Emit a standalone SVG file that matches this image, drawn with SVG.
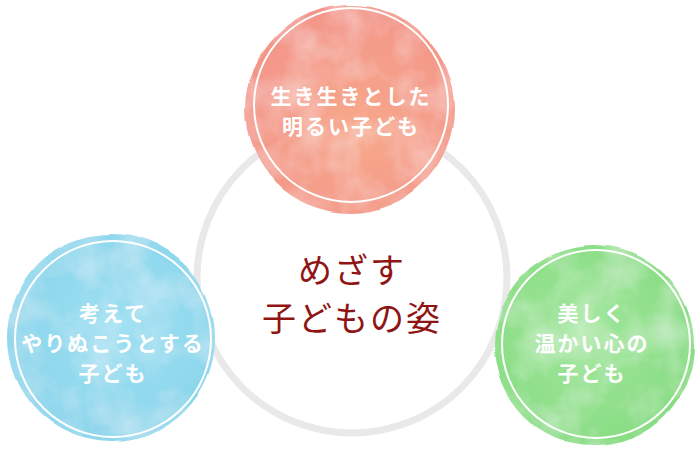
<svg xmlns="http://www.w3.org/2000/svg" width="700" height="450" viewBox="0 0 700 450">
<style>
.lbl{font-family:"Noto Sans CJK JP","Noto Sans",sans-serif;font-weight:700;font-size:21px;fill:#ffffff;text-anchor:middle;letter-spacing:2px}
.ctr{font-family:"Noto Sans CJK JP","Noto Sans",sans-serif;font-weight:400;font-size:34px;fill:#8f1414;text-anchor:middle;letter-spacing:2px}
.inner{fill:none;stroke:#ffffff;stroke-width:2}
</style>
<defs>
<filter id="wc" x="-10%" y="-10%" width="120%" height="120%">
<feTurbulence type="fractalNoise" baseFrequency="0.015" numOctaves="2" seed="4" result="n"/>
<feDisplacementMap in="SourceGraphic" in2="n" scale="6" xChannelSelector="R" yChannelSelector="G" result="d"/>
<feTurbulence type="fractalNoise" baseFrequency="0.025" numOctaves="4" seed="9" result="n2"/>
<feColorMatrix in="n2" type="matrix" values="0 0 0 0 1  0 0 0 0 1  0 0 0 0 1  0 0 0 0.6 -0.22" result="w"/>
<feComposite in="w" in2="d" operator="in" result="wi"/>
<feMerge><feMergeNode in="d"/><feMergeNode in="wi"/></feMerge>
</filter>
<radialGradient id="gTop" cx="55%" cy="60%" r="60%">
<stop offset="0" stop-color="#f7a88a"/>
<stop offset="1" stop-color="#f3968a"/>
</radialGradient>
<radialGradient id="gLeft" cx="55%" cy="45%" r="60%">
<stop offset="0" stop-color="#9ee0f2"/>
<stop offset="1" stop-color="#88d4eb"/>
</radialGradient>
<radialGradient id="gRight" cx="45%" cy="45%" r="60%">
<stop offset="0" stop-color="#a0e69b"/>
<stop offset="1" stop-color="#87dc82"/>
</radialGradient>
</defs>
<rect width="700" height="450" fill="#ffffff"/>
<g id="connectors">
<circle cx="352" cy="278" r="155" fill="none" stroke="#e9e9e9" stroke-width="7"/>
</g>
<g id="node-top">
<circle cx="350" cy="109" r="104" fill="url(#gTop)" filter="url(#wc)"/>
<circle class="inner" cx="351" cy="105" r="97"/>
<text class="lbl" x="351" y="104">生き生きとした</text>
<text class="lbl" x="351" y="134">明るい子ども</text>
</g>
<g id="node-left">
<circle cx="111" cy="338" r="104" fill="url(#gLeft)" filter="url(#wc)"/>
<circle class="inner" cx="113" cy="339" r="98"/>
<text class="lbl" x="113" y="321">考えて</text>
<text class="lbl" x="113" y="351">やりぬこうとする</text>
<text class="lbl" x="113" y="381">子ども</text>
</g>
<g id="node-right">
<circle cx="594" cy="345" r="100" fill="url(#gRight)" filter="url(#wc)"/>
<circle class="inner" cx="596" cy="344" r="94"/>
<text class="lbl" x="592" y="321">美しく</text>
<text class="lbl" x="592" y="351">温かい心の</text>
<text class="lbl" x="592" y="381">子ども</text>
</g>
<g id="node-center">
<text class="ctr" x="352" y="283">めざす</text>
<text class="ctr" x="352" y="331">子どもの姿</text>
</g>
</svg>
